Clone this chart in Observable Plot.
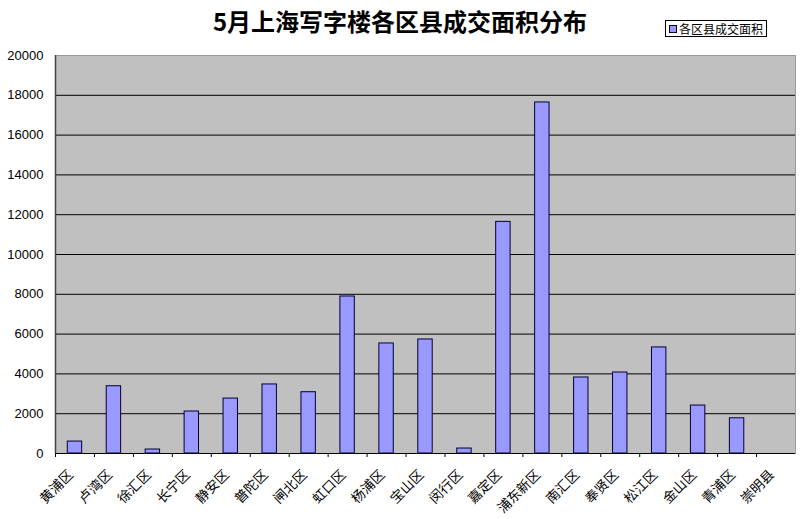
<!DOCTYPE html>
<html><head><meta charset="utf-8">
<script src="https://cdn.jsdelivr.net/npm/d3@7"></script>
<script src="https://cdn.jsdelivr.net/npm/@observablehq/plot@0.6"></script>
<style>
body{margin:0;background:#fff;font-family:"Noto Sans CJK SC",sans-serif;}
#wrap{width:800px;position:relative;}
#head{height:45px;position:relative;}
#title{position:absolute;left:0;width:800px;top:3px;text-align:center;font-size:24px;font-weight:bold;color:#000;}
#legend{position:absolute;left:665px;top:20px;width:100px;height:15px;border:1px solid #000;font-size:12px;line-height:15px;display:flex;align-items:center;box-sizing:content-box;}
#legend span.sw{display:inline-block;width:6px;height:6px;background:#9999FF;border:1px solid #000033;margin:0 2px 0 3px;}
</style></head>
<body><div id="wrap"><div id="head"><div id="title">5月上海写字楼各区县成交面积分布</div>
<div id="legend"><span class="sw"></span><span>各区县成交面积</span></div></div><div id="chart"></div></div>
<script>
const districts = ["黄浦区","卢湾区","徐汇区","长宁区","静安区","普陀区","闸北区","虹口区","杨浦区","宝山区","闵行区","嘉定区","浦东新区","南汇区","奉贤区","松江区","金山区","青浦区","崇明县"];
const areas = [600,3380,200,2110,2760,3470,3080,7890,5530,5730,250,11640,17640,3820,4070,5330,2410,1770,0];
const yTicks = [0,2000,4000,6000,8000,10000,12000,14000,16000,18000,20000];
const gridTicks = [2000,4000,6000,8000,10000,12000,14000,16000,18000];

const data = districts.map((d,i)=>({district:d, area:areas[i]}));
const W = 800, ML = 55, MR = 5;
const step = (W - ML - MR) / districts.length;

const chart = Plot.plot({
  width: W, height: 474,
  marginLeft: ML, marginRight: MR, marginTop: 10, marginBottom: 66,
  style: {fontFamily: "'Noto Sans CJK SC', sans-serif", fontSize: "13px", color: "#000", background: "#fff"},
  x: {domain: districts, paddingInner: 0.63, paddingOuter: 0.315, align: 0.5, round: false, label: null},
  y: {domain: [0, 20000], label: null},
  marks: [
    Plot.frame({fill: "#C0C0C0", stroke: "#999"}),
    Plot.ruleY(gridTicks, {stroke: "#000", strokeWidth: 1}),
    Plot.barY(data, {x: "district", y: "area", fill: "#9999FF", stroke: "#000033", strokeWidth: 1}),
    Plot.axisY({ticks: yTicks, tickFormat: d => String(d), tickSize: 0, tickPadding: 12, fontSize: 13, fontFamily: "'Liberation Sans', sans-serif", label: null}),
    Plot.ruleX([0], {x: () => districts[0], dx: -step/2, stroke: "#444", strokeWidth: 1.5}),
    Plot.axisX({tickFormat: () => "", tickSize: 4, dx: -step/2, stroke: "#000", label: null}),
    Plot.axisX({tickSize: 0, tickPadding: 18, tickRotate: -45, fontSize: 13.5, dx: -4, dy: 1, label: null}),
    Plot.ruleY([0], {stroke: "#000", strokeWidth: 1.2})
  ]
});
document.getElementById("chart").appendChild(chart);
</script></body></html>
